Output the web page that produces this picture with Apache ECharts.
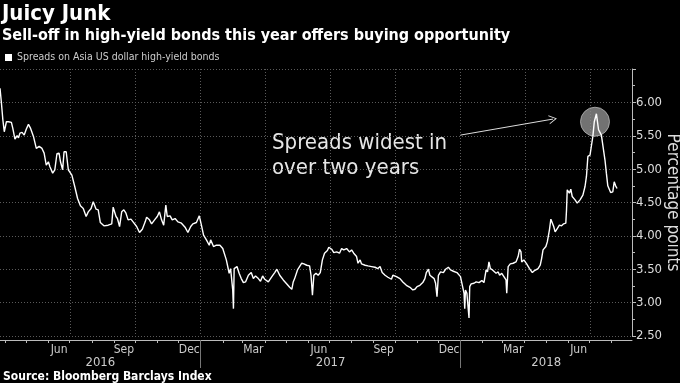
<!DOCTYPE html>
<html><head><meta charset="utf-8">
<script src="https://cdn.jsdelivr.net/npm/echarts@6/dist/echarts.min.js"></script>
<style>html,body{margin:0;padding:0;background:#000}#c{width:680px;height:383px}</style>
</head><body><div id="c"></div>
<script>
// ---------------- DATA ----------------
const SERIES_NAME = 'Spreads on Asia US dollar high-yield bonds';
const dates2016 = ['2016-03-25','2016-03-27','2016-03-29','2016-03-31','2016-04-03','2016-04-06','2016-04-10','2016-04-12','2016-04-15','2016-04-18','2016-04-20','2016-04-22','2016-04-25','2016-04-28','2016-05-01','2016-05-04','2016-05-07','2016-05-11','2016-05-15','2016-05-19','2016-05-23','2016-05-26','2016-05-29','2016-06-01','2016-06-03','2016-06-07','2016-06-10','2016-06-13','2016-06-16','2016-06-18','2016-06-21','2016-06-23','2016-06-26','2016-06-29','2016-07-04','2016-07-08','2016-07-12','2016-07-16','2016-07-20','2016-07-24','2016-07-27','2016-07-31','2016-08-03','2016-08-07','2016-08-10','2016-08-13','2016-08-18','2016-08-24','2016-08-29','2016-08-31','2016-09-04','2016-09-06','2016-09-09','2016-09-12','2016-09-15','2016-09-18','2016-09-21','2016-09-25','2016-09-28','2016-10-03','2016-10-07','2016-10-11','2016-10-15','2016-10-17','2016-10-21','2016-10-24','2016-10-29','2016-11-01','2016-11-04','2016-11-07','2016-11-10','2016-11-13','2016-11-15','2016-11-19','2016-11-22','2016-11-26','2016-11-30','2016-12-05','2016-12-10','2016-12-14','2016-12-18','2016-12-21','2016-12-26','2016-12-30'];
const spreads2016 = [6.21,5.99,5.74,5.56,5.71,5.71,5.70,5.61,5.45,5.50,5.47,5.54,5.55,5.51,5.60,5.67,5.61,5.49,5.31,5.34,5.31,5.24,5.06,5.11,5.04,4.94,4.99,5.23,5.24,5.11,4.99,5.26,5.26,4.99,4.91,4.74,4.56,4.45,4.41,4.29,4.36,4.41,4.51,4.40,4.39,4.20,4.15,4.16,4.18,4.43,4.29,4.26,4.14,4.36,4.39,4.34,4.24,4.25,4.21,4.14,4.05,4.10,4.21,4.28,4.24,4.18,4.25,4.29,4.36,4.24,4.16,4.46,4.29,4.30,4.24,4.26,4.21,4.19,4.13,4.05,4.14,4.18,4.20,4.30];
const dates2017 = ['2017-01-02','2017-01-05','2017-01-09','2017-01-13','2017-01-15','2017-01-19','2017-01-23','2017-01-28','2017-02-01','2017-02-06','2017-02-10','2017-02-12','2017-02-15','2017-02-16','2017-02-17','2017-02-19','2017-02-21','2017-02-24','2017-02-27','2017-03-02','2017-03-05','2017-03-09','2017-03-11','2017-03-13','2017-03-16','2017-03-19','2017-03-23','2017-03-26','2017-03-29','2017-04-01','2017-04-06','2017-04-11','2017-04-15','2017-04-18','2017-04-22','2017-04-27','2017-05-02','2017-05-06','2017-05-09','2017-05-11','2017-05-13','2017-05-17','2017-05-19','2017-05-23','2017-05-26','2017-05-30','2017-06-03','2017-06-05','2017-06-07','2017-06-09','2017-06-12','2017-06-15','2017-06-18','2017-06-21','2017-06-24','2017-06-28','2017-06-30','2017-07-04','2017-07-07','2017-07-11','2017-07-15','2017-07-18','2017-07-21','2017-07-25','2017-07-29','2017-08-01','2017-08-04','2017-08-08','2017-08-10','2017-08-13','2017-08-15','2017-08-20','2017-08-24','2017-08-29','2017-09-03','2017-09-07','2017-09-10','2017-09-13','2017-09-17','2017-09-21','2017-09-26','2017-09-28','2017-10-03','2017-10-08','2017-10-12','2017-10-17','2017-10-22','2017-10-26','2017-10-29','2017-11-01','2017-11-05','2017-11-09','2017-11-12','2017-11-14','2017-11-17','2017-11-19','2017-11-21','2017-11-25','2017-11-27','2017-11-29','2017-12-01','2017-12-04','2017-12-08','2017-12-11','2017-12-15','2017-12-18','2017-12-22','2017-12-27','2017-12-29'];
const spreads2017 = [4.16,4.01,3.94,3.86,3.94,3.84,3.86,3.86,3.81,3.64,3.44,3.51,3.19,2.91,3.51,3.49,3.54,3.44,3.36,3.30,3.31,3.41,3.39,3.45,3.36,3.40,3.36,3.32,3.40,3.35,3.31,3.39,3.45,3.50,3.41,3.34,3.28,3.23,3.20,3.31,3.36,3.49,3.51,3.59,3.58,3.56,3.55,3.41,3.11,3.41,3.44,3.41,3.45,3.64,3.74,3.78,3.83,3.80,3.75,3.76,3.74,3.81,3.79,3.81,3.76,3.79,3.74,3.69,3.59,3.64,3.58,3.56,3.55,3.54,3.53,3.51,3.54,3.45,3.41,3.38,3.35,3.41,3.39,3.36,3.31,3.26,3.23,3.19,3.20,3.24,3.26,3.30,3.36,3.45,3.50,3.41,3.43,3.36,3.29,3.09,3.41,3.46,3.45,3.50,3.53,3.49,3.47,3.45,3.46];
const dates2018 = ['2018-01-01','2018-01-04','2018-01-06','2018-01-07','2018-01-08','2018-01-10','2018-01-13','2018-01-14','2018-01-16','2018-01-20','2018-01-23','2018-01-27','2018-01-31','2018-02-03','2018-02-06','2018-02-08','2018-02-10','2018-02-12','2018-02-15','2018-02-17','2018-02-20','2018-02-23','2018-02-25','2018-02-28','2018-03-03','2018-03-06','2018-03-07','2018-03-09','2018-03-12','2018-03-16','2018-03-20','2018-03-23','2018-03-25','2018-03-27','2018-03-28','2018-03-31','2018-04-04','2018-04-08','2018-04-12','2018-04-15','2018-04-20','2018-04-23','2018-04-25','2018-04-27','2018-05-01','2018-05-03','2018-05-06','2018-05-08','2018-05-10','2018-05-12','2018-05-14','2018-05-17','2018-05-20','2018-05-23','2018-05-26','2018-05-29','2018-05-30','2018-05-31','2018-06-03','2018-06-05','2018-06-07','2018-06-11','2018-06-14','2018-06-18','2018-06-22','2018-06-25','2018-06-27','2018-06-29','2018-07-02','2018-07-04','2018-07-06','2018-07-08','2018-07-10','2018-07-11','2018-07-12','2018-07-14','2018-07-16','2018-07-18','2018-07-20','2018-07-23','2018-07-25','2018-07-27','2018-07-31','2018-08-03','2018-08-05','2018-08-07','2018-08-09'];
const spreads2018 = [3.39,3.24,3.14,2.91,3.19,3.14,2.77,3.24,3.28,3.29,3.31,3.30,3.33,3.30,3.49,3.46,3.61,3.51,3.49,3.50,3.44,3.46,3.41,3.44,3.39,3.34,3.14,3.54,3.58,3.59,3.61,3.69,3.80,3.76,3.61,3.64,3.58,3.51,3.45,3.48,3.51,3.56,3.66,3.79,3.84,3.91,4.09,4.25,4.25,4.14,4.06,4.11,4.16,4.15,4.18,4.19,4.39,4.69,4.64,4.70,4.59,4.54,4.49,4.54,4.61,4.74,4.89,5.19,5.21,5.35,5.49,5.71,5.69,5.83,5.75,5.59,5.55,5.51,5.36,5.14,4.94,4.75,4.65,4.66,4.81,4.75,4.71];

const monthLabels = ['Jun','Sep','Dec','Mar','Jun','Sep','Dec','Mar','Jun'];
const monthLabelDates = ['2016-06-16','2016-09-15','2016-12-16','2017-03-16','2017-06-16','2017-09-15','2017-12-16','2018-03-16','2018-06-16'];
const yearLabels = ['2016','2017','2018'];
const yearStartDates = ['2017-01-01','2018-01-01'];
const AXIS_START = '2016-03-25', AXIS_END = '2018-08-30';
const Y_MIN = 2.5, Y_MAX = 6.5, Y_STEP = 0.5;

const annotationText = 'Spreads widest in\nover two years';
const arrowFrom = ['2018-01-01', 5.51];
const arrowTo = ['2018-05-11', 5.75];
const highlightPoint = ['2018-07-09', 5.71];

// ---------------- HELPERS ----------------
const DAY = 86400000, EPOCH = Date.UTC(2016, 0, 1), MONTH_DAYS = 30.4375;
function toM(s) { const p = s.split('-').map(Number); return (Date.UTC(p[0], p[1] - 1, p[2]) - EPOCH) / DAY / MONTH_DAYS; }
const F = "'Liberation Sans Narrow','DejaVu Sans Condensed','Roboto Condensed',Roboto,sans-serif";

const allDates = dates2016.concat(dates2017, dates2018);
const allVals = spreads2016.concat(spreads2017, spreads2018);
const seriesData = allDates.map((d, i) => [toM(d), allVals[i]]);

const xMin = toM(AXIS_START), xMax = toM(AXIS_END);
const W = 680, PLOT = { left: 0, right: 48, top: 69, bottom: 47 };
const plotW = W - PLOT.left - PLOT.right;
const GRID_FIRST = 3; // first quarter boundary (Apr 2016) in month units
const grid1Left = PLOT.left + (GRID_FIRST - xMin) / (xMax - xMin) * plotW;

const monthTicks = [];
for (let y = 2016; y <= 2018; y++) for (let mo = 1; mo <= 12; mo++) {
  const s = y + '-' + String(mo).padStart(2, '0') + '-01';
  const v = toM(s); if (v > xMin && v < xMax) monthTicks.push(v);
}
const monthLabelM = monthLabelDates.map(toM);
const yearStartM = yearStartDates.map(toM);
const yearBounds = [xMin].concat(yearStartM, [xMax]);
const yearCenterM = yearLabels.map((_, i) => (yearBounds[i] + yearBounds[i + 1]) / 2);
function nearestLabel(v, arr, labels) { let b = 0; arr.forEach((a, i) => { if (Math.abs(a - v) < Math.abs(arr[b] - v)) b = i; }); return labels[b]; }

const chart = echarts.init(document.getElementById('c'), null, { renderer: 'canvas' });
chart.setOption({
  backgroundColor: '#000',
  animation: false,
  textStyle: { fontFamily: F },
  title: [
    { text: 'Juicy Junk', left: 2, top: 3, padding: 0, textStyle: { color: '#fff', fontSize: 22, fontWeight: 'bold', fontFamily: F } },
    { text: 'Sell-off in high-yield bonds this year offers buying opportunity', left: 2, top: 28, padding: 0, textStyle: { color: '#fff', fontSize: 16, fontWeight: 'bold', fontFamily: F } },
    { text: 'Source: Bloomberg Barclays Index', left: 3, top: 371, padding: 0, textStyle: { color: '#fff', fontSize: 12, fontWeight: 'bold', fontFamily: F } }
  ],
  legend: {
    data: [SERIES_NAME], left: 5, top: 52, padding: 0, icon: 'rect', itemWidth: 7, itemHeight: 7,
    textStyle: { color: '#ccc', fontSize: 10.5, fontFamily: F }, selectedMode: false
  },
  grid: [
    { left: PLOT.left, right: PLOT.right, top: PLOT.top, bottom: PLOT.bottom, containLabel: false, outerBoundsMode: 'none' },
    { left: grid1Left, right: PLOT.right, top: PLOT.top, bottom: PLOT.bottom, containLabel: false, outerBoundsMode: 'none' }
  ],
  xAxis: [
    { type: 'value', gridIndex: 0, position: 'bottom', min: xMin, max: xMax, offset: 4,
      axisLine: { show: true, lineStyle: { color: '#bbb', width: 1 } },
      axisTick: { show: true, customValues: monthTicks, length: 3, lineStyle: { color: '#bbb' } },
      axisLabel: { show: true, customValues: monthLabelM, margin: 4, color: '#ccc', fontSize: 12, fontFamily: F,
        formatter: v => nearestLabel(v, monthLabelM, monthLabels) },
      splitLine: { show: false } },
    { type: 'value', gridIndex: 0, position: 'bottom', min: xMin, max: xMax, offset: 4,
      axisLine: { show: false },
      axisTick: { show: true, customValues: yearStartM, length: 28, lineStyle: { color: '#777' } },
      axisLabel: { show: true, customValues: yearCenterM, margin: 16, color: '#ccc', fontSize: 13, fontFamily: F,
        formatter: v => nearestLabel(v, yearCenterM, yearLabels) },
      splitLine: { show: false } },
    { type: 'value', gridIndex: 1, position: 'bottom', min: GRID_FIRST, max: xMax, interval: 3,
      axisLine: { show: false }, axisTick: { show: false }, axisLabel: { show: false },
      splitLine: { show: true, showMinLine: false, showMaxLine: false, lineStyle: { color: '#5a5a5a', type: [1, 2], width: 1 } } }
  ],
  yAxis: [
    { type: 'value', gridIndex: 0, position: 'right', min: Y_MIN, max: Y_MAX, interval: Y_STEP,
      axisLine: { show: true, lineStyle: { color: '#bbb' } },
      axisTick: { show: true, length: 4, lineStyle: { color: '#bbb' } },
      minorTick: { show: true, splitNumber: 2, length: 3, lineStyle: { color: '#bbb' } },
      axisLabel: { color: '#ddd', fontSize: 13, margin: 4, fontFamily: F, formatter: v => v >= Y_MAX ? '' : v.toFixed(2) },
      splitLine: { show: true, lineStyle: { color: '#5a5a5a', type: [1, 2], width: 1 } },
      name: 'Percentage points', nameLocation: 'middle', nameRotate: -90, nameGap: 32, nameMoveOverlap: false,
      nameTextStyle: { color: '#ddd', fontSize: 17, fontFamily: F } },
    { type: 'value', gridIndex: 1, show: false, min: Y_MIN, max: Y_MAX }
  ],
  series: [
    { type: 'scatter', xAxisIndex: 0, yAxisIndex: 0, silent: true, z: 1,
      data: [[toM(highlightPoint[0]), highlightPoint[1]]], symbolSize: 29,
      itemStyle: { color: '#8e8e8e', borderColor: '#b5b5b5', borderWidth: 1 } },
    { type: 'line', name: SERIES_NAME, xAxisIndex: 0, yAxisIndex: 0, z: 3, data: seriesData,
      showSymbol: false, symbol: 'none', lineStyle: { color: '#fff', width: 1.4 }, itemStyle: { color: '#fff' },
      markLine: { silent: true, symbol: ['none', 'path://M5,0L10,9L9,9L5,2L1,9L0,9Z'], symbolSize: [9, 8],
        label: { show: false }, lineStyle: { color: '#ddd', width: 1, type: 'solid' },
        data: [[{ coord: [toM(arrowFrom[0]), arrowFrom[1]] }, { coord: [toM(arrowTo[0]), arrowTo[1]] }]] } }
  ],
  graphic: [
    { type: 'text', left: 272, top: 131, silent: true,
      style: { text: annotationText, fill: '#e6e6e6', font: '22px ' + F, lineHeight: 25 } }
  ]
});
</script></body></html>
